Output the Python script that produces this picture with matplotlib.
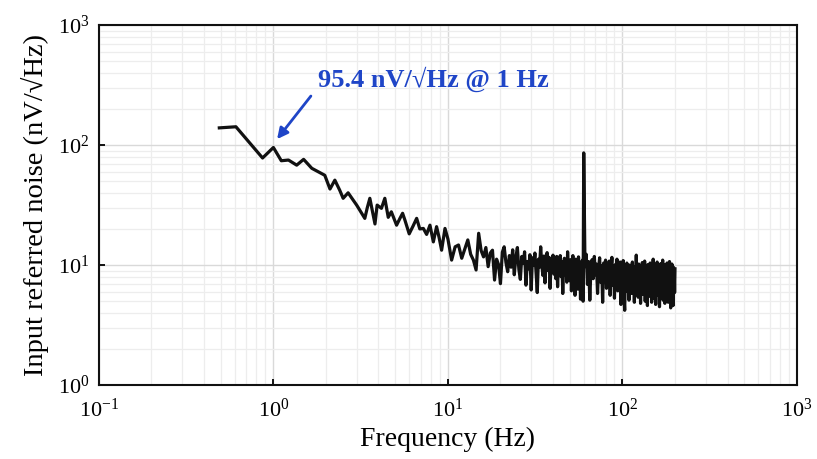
import numpy as np
import matplotlib

matplotlib.use("Agg")
import matplotlib.pyplot as plt
from matplotlib.ticker import LogLocator, FixedLocator

plt.rcParams["font.family"] = ["Liberation Serif", "DejaVu Serif"]
plt.rcParams["mathtext.fontset"] = "custom"
plt.rcParams["mathtext.rm"] = "Liberation Serif"

DARK = "#111111"
BLUE = "#1f45c7"

# low-frequency part of the spectrum, read point by point
freq_low = [0.49, 0.61, 0.867, 1.0, 1.11, 1.22, 1.36, 1.49, 1.66, 1.97,
            2.11, 2.25, 2.40, 2.51, 2.68, 3.0, 3.34, 3.45, 3.57, 3.82,
            3.93, 4.16, 4.35, 4.55, 4.74, 5.08, 5.31, 5.5, 5.67, 6.0,
            6.3, 6.62, 6.9, 7.23, 7.55, 7.89, 8.25, 8.61, 8.9, 9.2,
            9.62]
noise_low = [139, 142, 78, 95.4, 74, 75, 68, 76, 64, 56,
             43, 51, 42, 36, 40, 31.6, 24.5, 30, 36, 22,
             31.6, 29.7, 36, 25, 27.8, 21.5, 24.5, 27, 23.7, 18.2,
             21, 24.5, 20, 20.2, 18, 21.5, 15.6, 20.9, 17, 13.3,
             20.2]

# 10 Hz .. 59.5 Hz, 0.5 Hz bins
freq_mid = np.arange(10, 60, 0.5)
noise_mid = [
    16.5, 11.0, 14.2, 14.7, 11.4, 13.6, 16.2, 12.3, 11.0, 9.1,
    18.4, 13.2, 11.7, 14.0, 9.7, 12.6, 13.3, 7.5, 11.2, 10.1,
    7.0, 12.8, 14.2, 10.5, 8.8, 12.0, 9.6, 13.4, 8.3, 11.6,
    14.0, 9.2, 7.6, 11.8, 10.4, 12.9, 6.8, 10.7, 9.3, 12.2,
    6.2, 11.5, 10.0, 12.6, 8.7, 5.9, 11.2, 9.6, 14.2, 10.1,
    8.2, 11.9, 7.1, 10.4, 12.7, 9.0, 11.6, 6.4, 10.8, 9.5,
    12.1, 8.4, 10.6, 7.7, 11.8, 6.6, 10.2, 9.1, 12.0, 8.0,
    10.7, 5.8, 9.8, 11.4, 8.3, 10.9, 7.2, 12.9, 9.3, 10.5,
    7.4, 11.1, 6.1, 9.9, 12.0, 8.2, 10.3, 5.6, 11.2, 8.8,
    10.1, 6.3, 11.7, 8.5, 9.8, 5.2, 10.6, 7.3, 11.0, 5.0,
]

# 60 Hz .. 200 Hz, 1 Hz bins (mains spike at 60 Hz)
freq_high = np.arange(60, 201)
noise_high = [
    86.0,
    9.7, 12.3, 6.9, 10.7, 5.1, 9.5, 11.1, 7.7, 11.8, 8.3,
    10.2, 5.8, 9.4, 11.5, 7.2, 9.9, 4.9, 10.4, 8.1, 11.0,
    6.4, 9.6, 7.9, 10.8, 5.6, 9.2, 11.6, 6.8, 9.8, 5.3,
    10.1, 8.0, 11.2, 6.1, 9.5, 7.4, 10.6, 4.7, 9.0, 7.8,
    10.9, 5.5, 4.2, 9.3, 8.2, 10.4, 6.0, 9.7, 5.1, 10.0,
    7.5, 9.1, 5.8, 10.6, 6.7, 8.9, 4.9, 9.6, 7.1, 12.1,
    6.3, 9.4, 5.4, 10.2, 7.6, 8.8, 4.8, 9.9, 6.5, 10.5,
    5.7, 9.2, 7.0, 10.8, 5.0, 8.6, 6.8, 9.7, 4.6, 10.1,
    7.3, 9.0, 5.5, 10.4, 6.2, 8.7, 4.9, 9.8, 7.1, 11.2,
    5.3, 8.9, 6.6, 10.0, 4.7, 9.4, 7.4, 10.6, 5.6, 8.5,
    6.9, 9.9, 4.5, 9.1, 7.2, 10.3, 5.8, 8.8, 6.4, 11.0,
    5.1, 9.3, 7.0, 10.1, 4.8, 8.6, 6.7, 9.7, 5.4, 10.4,
    6.2, 8.9, 4.9, 9.8, 7.3, 10.7, 5.5, 8.4, 4.4, 9.5,
    6.8, 10.2, 5.2, 9.0, 4.6, 9.6, 7.1, 8.7, 5.9, 9.3,
]

freq = np.concatenate([freq_low, freq_mid, freq_high])
noise = np.concatenate([noise_low, noise_mid, noise_high])

x_ticks = [0.1, 1, 10, 100, 1000]
x_labels = [r"$\mathregular{10^{-1}}$", r"$\mathregular{10^{0}}$", r"$\mathregular{10^{1}}$",
            r"$\mathregular{10^{2}}$", r"$\mathregular{10^{3}}$"]
y_ticks = [1, 10, 100, 1000]
y_labels = [r"$\mathregular{10^{0}}$", r"$\mathregular{10^{1}}$", r"$\mathregular{10^{2}}$",
            r"$\mathregular{10^{3}}$"]

fig = plt.figure(figsize=(8.17, 4.59), dpi=100, facecolor="white")
ax = fig.add_axes([0.121, 0.161, 0.8545, 0.7845])

ax.plot(freq, noise, color=DARK, lw=2.3, zorder=3)

ax.set_xscale("log")
ax.set_yscale("log")
ax.set_xlim(0.1, 1000)
ax.set_ylim(1, 1000)

ax.xaxis.set_major_locator(FixedLocator(x_ticks))
ax.yaxis.set_major_locator(FixedLocator(y_ticks))
ax.xaxis.set_minor_locator(LogLocator(base=10, subs=np.arange(2, 10)))
ax.yaxis.set_minor_locator(LogLocator(base=10, subs=np.arange(2, 10)))
ax.set_xticklabels(x_labels)
ax.set_yticklabels(y_labels)

ax.grid(True, which="major", color="#d9d9d9", lw=1.0, zorder=0)
ax.grid(True, which="minor", color="#ededed", lw=0.9, zorder=0)
ax.set_axisbelow(True)

ax.tick_params(which="major", direction="in", length=4, width=1.4, labelsize=16,
               color=DARK, pad=7)
ax.tick_params(which="minor", length=0)
ax.tick_params(axis="x", pad=10)
for side in ax.spines.values():
    side.set_linewidth(1.5)
    side.set_color(DARK)

ax.set_xlabel("Frequency (Hz)", fontsize=20, labelpad=3)
ax.set_ylabel("Input referred noise (nV/\u221aHz)", fontsize=20.5, labelpad=6)

ax.annotate("", xy=(1.05, 112), xytext=(1.64, 256),
            arrowprops=dict(arrowstyle="-|>", color=BLUE, lw=2.0, mutation_scale=16,
                            shrinkA=0, shrinkB=0), zorder=5)
ax.text(1.80, 350, "95.4 nV/\u221aHz @ 1 Hz", color=BLUE, fontsize=19,
        fontweight="bold", ha="left", va="center", zorder=5)

fig.savefig("out.png", dpi=100, facecolor="white")
